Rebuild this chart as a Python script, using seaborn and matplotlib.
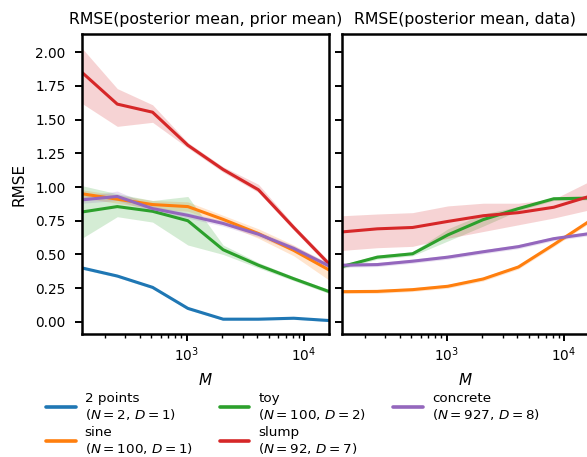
import numpy as np
import pandas as pd
import matplotlib
matplotlib.use("Agg")
import matplotlib.pyplot as plt
import seaborn as sns
from matplotlib.lines import Line2D

# ---------------- data ----------------
M = [128, 256, 512, 1024, 2048, 4096, 8192, 16384]
datasets = ["2 points", "sine", "toy", "slump", "concrete"]
labels = ["2 points\n($N=2$, $D=1$)", "sine\n($N=100$, $D=1$)", "toy\n($N=100$, $D=2$)",
          "slump\n($N=92$, $D=7$)", "concrete\n($N=927$, $D=8$)"]
colors = ["#1f77b4", "#ff7f0e", "#2ca02c", "#d62728", "#9467bd"]

# Left panel: RMSE(posterior mean, prior mean)
prior_mean = {
    "2 points": [0.40, 0.34, 0.256, 0.10, 0.02, 0.02, 0.027, 0.01],
    "sine":     [0.95, 0.91, 0.87, 0.855, 0.76, 0.655, 0.53, 0.385],
    "toy":      [0.815, 0.855, 0.82, 0.75, 0.535, 0.42, 0.32, 0.225],
    "slump":    [1.85, 1.615, 1.555, 1.31, 1.13, 0.98, 0.70, 0.43],
    "concrete": [0.905, 0.93, 0.84, 0.79, 0.73, 0.65, 0.545, 0.415],
}
prior_lo = {
    "2 points": [0.39, 0.33, 0.246, 0.09, 0.012, 0.012, 0.018, 0.002],
    "sine":     [0.92, 0.88, 0.84, 0.82, 0.73, 0.62, 0.49, 0.31],
    "toy":      [0.62, 0.78, 0.74, 0.57, 0.50, 0.40, 0.305, 0.21],
    "slump":    [1.62, 1.45, 1.48, 1.29, 1.11, 0.96, 0.68, 0.41],
    "concrete": [0.88, 0.90, 0.82, 0.77, 0.71, 0.63, 0.525, 0.395],
}
prior_hi = {
    "2 points": [0.41, 0.35, 0.266, 0.11, 0.028, 0.028, 0.036, 0.018],
    "sine":     [0.98, 0.94, 0.90, 0.89, 0.79, 0.69, 0.57, 0.43],
    "toy":      [1.01, 0.95, 0.90, 0.93, 0.57, 0.44, 0.335, 0.24],
    "slump":    [2.03, 1.73, 1.61, 1.33, 1.15, 1.02, 0.72, 0.45],
    "concrete": [0.93, 0.97, 0.86, 0.81, 0.75, 0.67, 0.565, 0.435],
}

# Right panel: RMSE(posterior mean, data)
data_rmse = {
    "sine":     [0.224, 0.226, 0.239, 0.264, 0.318, 0.407, 0.573, 0.745],
    "toy":      [0.41, 0.48, 0.505, 0.645, 0.758, 0.84, 0.913, 0.918],
    "slump":    [0.667, 0.69, 0.70, 0.745, 0.787, 0.81, 0.85, 0.93],
    "concrete": [0.42, 0.425, 0.45, 0.48, 0.52, 0.558, 0.617, 0.654],
}
data_lo = {
    "sine":     [0.21, 0.212, 0.225, 0.25, 0.303, 0.392, 0.558, 0.73],
    "toy":      [0.395, 0.465, 0.49, 0.60, 0.71, 0.825, 0.90, 0.905],
    "slump":    [0.53, 0.55, 0.56, 0.62, 0.67, 0.72, 0.77, 0.83],
    "concrete": [0.405, 0.41, 0.435, 0.465, 0.505, 0.543, 0.602, 0.639],
}
data_hi = {
    "sine":     [0.238, 0.24, 0.253, 0.278, 0.333, 0.422, 0.588, 0.76],
    "toy":      [0.425, 0.495, 0.52, 0.69, 0.80, 0.855, 0.926, 0.931],
    "slump":    [0.787, 0.80, 0.81, 0.86, 0.88, 0.88, 0.91, 1.04],
    "concrete": [0.435, 0.44, 0.465, 0.495, 0.535, 0.573, 0.632, 0.669],
}

# ---------------- plotting ----------------
sns.set_style("ticks")
plt.rcParams["font.family"] = ["DejaVu Sans"]
plt.rcParams["text.color"] = "black"
plt.rcParams["axes.labelcolor"] = "black"
plt.rcParams["xtick.color"] = "black"
plt.rcParams["ytick.color"] = "black"

fig = plt.figure(figsize=(5.87, 4.57), dpi=100)
axL = fig.add_axes([82/587, 1-334/457, 247/587, 300/457])
axR = fig.add_axes([342/587, 1-334/457, 247/587, 300/457], sharex=axL, sharey=axL)

palette = dict(zip(datasets, colors))

def draw(ax, mean, lo, hi):
    rows = []
    for name in datasets:
        if name not in mean:
            continue
        ax.fill_between(M, lo[name], hi[name], color=palette[name], alpha=0.2, lw=0)
        for m, v in zip(M, mean[name]):
            rows.append({"M": m, "RMSE": v, "dataset": name})
    df = pd.DataFrame(rows)
    sns.lineplot(data=df, x="M", y="RMSE", hue="dataset", palette=palette,
                 ax=ax, legend=False, linewidth=2.2, errorbar=None)

draw(axL, prior_mean, prior_lo, prior_hi)
draw(axR, data_rmse, data_lo, data_hi)

for ax in (axL, axR):
    ax.set_xscale("log")
    ax.set_xlim(128, 16384)
    ax.set_ylim(-0.09, 2.135)
    ax.set_xlabel("$M$", fontsize=11, labelpad=6)
    for s in ax.spines.values():
        s.set_linewidth(1.8)
        s.set_color("black")
    ax.tick_params(which="major", length=4.8, width=1.4, labelsize=9.8,
                   color="black", labelcolor="black")
    ax.tick_params(which="minor", length=3, width=1.0, color="black")
    ax.tick_params(axis="y", which="major", pad=7)

axL.set_yticks([0.0, 0.25, 0.5, 0.75, 1.0, 1.25, 1.5, 1.75, 2.0])
axL.set_ylabel("RMSE", fontsize=11, labelpad=6.5)
axR.set_ylabel("")
axR.tick_params(axis="y", labelleft=False)
axL.set_title("RMSE(posterior mean, prior mean)", fontsize=11.3, pad=7)
axR.set_title("RMSE(posterior mean, data)", fontsize=11.3, pad=7)

handles = [Line2D([], [], color=c, lw=2.6) for c in colors]
fig.legend(handles, labels, ncol=3, frameon=False,
           loc="upper left", bbox_to_anchor=(0.069, 0.155), fontsize=9.7,
           handlelength=2.2, handletextpad=0.67, columnspacing=2.0,
           labelspacing=0.28, borderaxespad=0)

fig.savefig("out.png", dpi=100)
